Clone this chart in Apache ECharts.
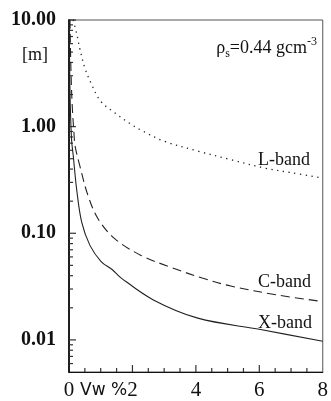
<!DOCTYPE html>
<html>
<head>
<meta charset="utf-8">
<script src="https://cdn.jsdelivr.net/npm/echarts@6/dist/echarts.min.js"></script>
<style>
  html, body { margin: 0; background: #fff; }
  #chart { width: 331px; height: 401px; }
</style>
</head>
<body>
<div id="chart"></div>
<script>
// values (Vw %, depth in m)
const lBandX = [0.13, 0.24, 0.34, 0.5, 0.71, 1.0, 1.44, 1.96, 2.32, 3.0, 4.06, 5.1, 6.15, 7.0, 8.0];
const lBandY = [10, 7.5, 5.4, 3.55, 2.5, 1.73, 1.35, 1.05, 0.91, 0.73, 0.59, 0.49, 0.41, 0.37, 0.33];

const cBandX = [0.03, 0.06, 0.1, 0.16, 0.19, 0.34, 0.6, 0.92, 1.44, 2.27, 3.21, 4.2, 5.1, 6.56, 8.0];
const cBandY = [10, 3.5, 1.6, 0.84, 0.66, 0.43, 0.225, 0.136, 0.089, 0.062, 0.048, 0.038, 0.032, 0.0264, 0.0229];

const xBandX = [0.01, 0.03, 0.08, 0.135, 0.24, 0.4, 0.66, 1.02, 1.35, 1.65, 2.66, 4.06, 6.04, 8.0];
const xBandY = [10, 2.2, 0.76, 0.53, 0.26, 0.127, 0.077, 0.054, 0.046, 0.038, 0.0237, 0.016, 0.0125, 0.0097];

const yMajor = [0.01, 0.1, 1, 10];
const yMinor = [0.006, 0.007, 0.008, 0.009,
  0.02, 0.03, 0.04, 0.05, 0.06, 0.07, 0.08, 0.09,
  0.2, 0.3, 0.4, 0.5, 0.6, 0.7, 0.8, 0.9,
  2, 3, 4, 5, 6, 7, 8, 9];
const xMajor = [2, 4, 6];
const xMinor = [0.5, 1, 1.5, 2.5, 3, 3.5, 4.5, 5, 5.5, 6.5, 7, 7.5];

const yMin = 0.005, yMax = 10;
const xMin = 0, xMax = 8;

const zip = (xs, ys) => xs.map((x, i) => [x, ys[i]]);

const chart = echarts.init(document.getElementById('chart'));

const serif = 'Liberation Serif';

// inward ticks drawn as a custom series (axisTick did not show up reliably here)
// each item: [x, y, isMajor, isYAxisTick]
const tickData = []
  .concat(yMajor.map(v => [xMin, v, 1, 1]))
  .concat(yMinor.map(v => [xMin, v, 0, 1]))
  .concat(xMajor.map(v => [v, yMin, 1, 0]))
  .concat(xMinor.map(v => [v, yMin, 0, 0]));

function renderTick(params, api) {
  const p = api.coord([api.value(0), api.value(1)]);
  const len = api.value(2) ? 7 : 4;
  const onY = api.value(3) === 1;
  return {
    type: 'line',
    shape: onY
      ? { x1: p[0], y1: p[1], x2: p[0] + len, y2: p[1] }
      : { x1: p[0], y1: p[1], x2: p[0], y2: p[1] - len },
    style: { stroke: '#333', lineWidth: 1.2 }
  };
}

chart.setOption({
  animation: false,
  grid: { left: 69, right: 6, top: 20, bottom: 26, show: true, borderColor: '#555', borderWidth: 1 },
  xAxis: {
    type: 'value', min: xMin, max: xMax, interval: 2,
    axisLine: { show: true, lineStyle: { color: '#111', width: 1.2 } },
    axisTick: { show: false },
    splitLine: { show: false },
    axisLabel: {
      margin: 8, color: '#111', fontFamily: serif, fontSize: 21,
      formatter: v => String(v)
    }
  },
  yAxis: {
    type: 'log', min: yMin, max: yMax,
    axisLine: { show: true, lineStyle: { color: '#111', width: 1.8 } },
    axisTick: { show: false },
    splitLine: { show: false },
    axisLabel: {
      margin: 13, color: '#111', fontFamily: serif, fontWeight: 'bold', fontSize: 20,
      customValues: yMajor,
      formatter: v => Number(v).toFixed(2)
    }
  },
  series: [
    {
      name: 'L-band', type: 'line', data: zip(lBandX, lBandY),
      showSymbol: false, smooth: 0.35,
      lineStyle: { color: '#222', width: 1.3, type: [1.3, 4.5] }
    },
    {
      name: 'C-band', type: 'line', data: zip(cBandX, cBandY),
      showSymbol: false, smooth: 0.35,
      lineStyle: { color: '#222', width: 1.1, type: [9, 5] }
    },
    {
      name: 'X-band', type: 'line', data: zip(xBandX, xBandY),
      showSymbol: false, smooth: 0.35,
      lineStyle: { color: '#222', width: 1.1 }
    },
    {
      name: 'ticks', type: 'custom', data: tickData, clip: false, silent: true,
      renderItem: renderTick
    }
  ],
  graphic: [
    {
      type: 'text', left: 22, top: 46,
      style: { text: '[m]', font: '18px "Liberation Serif"', fill: '#111' }
    },
    {
      type: 'text', right: 14, top: 36,
      style: {
        text: '{a|ρ}{b|s}{a|=0.44 gcm}{c|-3}',
        rich: {
          a: { fontFamily: serif, fontSize: 18, lineHeight: 24, fill: '#111' },
          b: { fontFamily: serif, fontSize: 12, lineHeight: 12, verticalAlign: 'bottom', fill: '#111' },
          c: { fontFamily: serif, fontSize: 12, lineHeight: 12, verticalAlign: 'top', fill: '#111' }
        }
      }
    },
    {
      type: 'text', left: 258, top: 151,
      style: { text: 'L-band', font: '18px "Liberation Serif"', fill: '#111' }
    },
    {
      type: 'text', left: 258, top: 273,
      style: { text: 'C-band', font: '18px "Liberation Serif"', fill: '#111' }
    },
    {
      type: 'text', left: 258, top: 314,
      style: { text: 'X-band', font: '18px "Liberation Serif"', fill: '#111' }
    },
    {
      type: 'text', left: 80, top: 382,
      style: { text: 'Vw %', font: '17px "DejaVu Sans"', fill: '#111' }
    }
  ]
});
</script>
</body>
</html>
